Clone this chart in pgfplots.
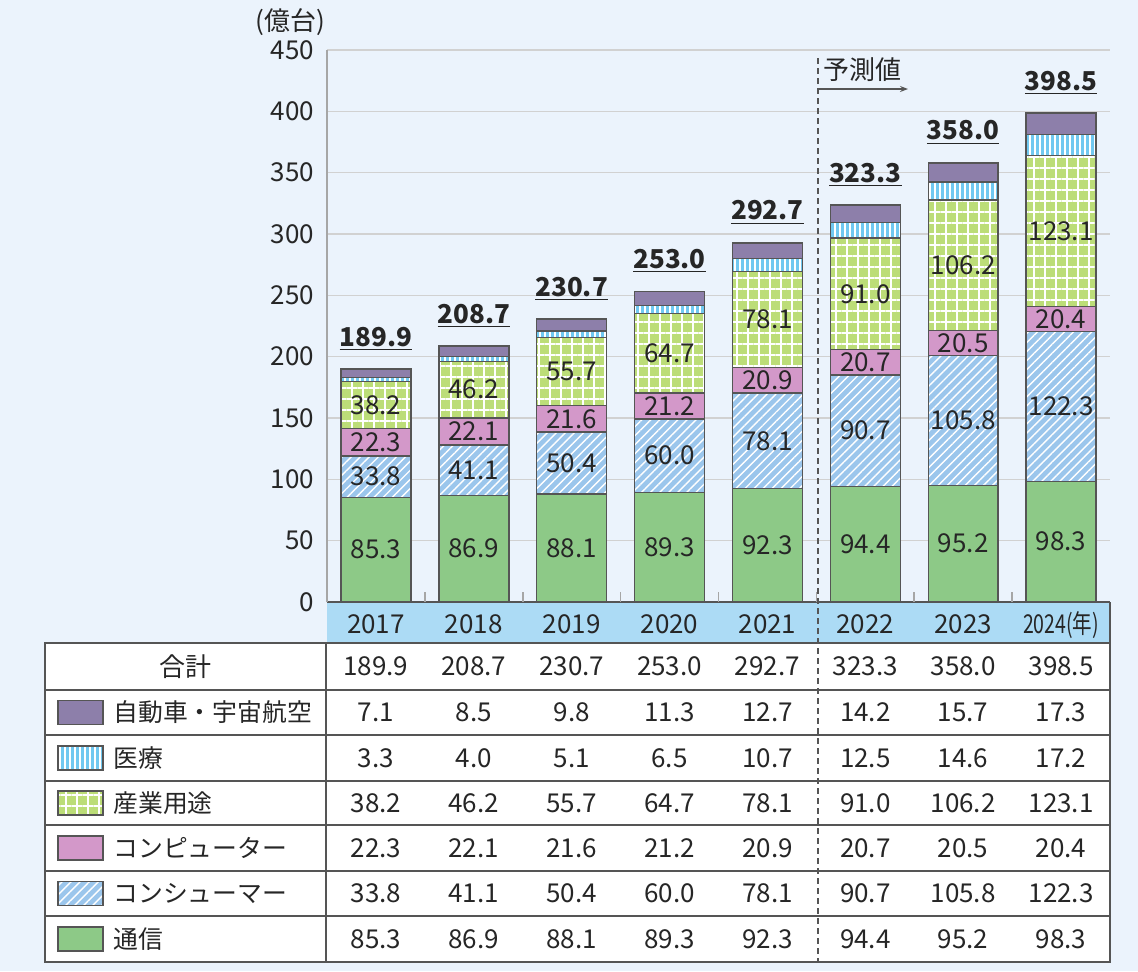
\documentclass[border=0pt]{standalone}
\usepackage{graphicx}
\usepackage{pgfplots}
\pgfplotsset{compat=1.18}
\usepackage{pgfplotstable}
\usepackage{fontspec}
\setmainfont{Noto Sans CJK JP}
\usetikzlibrary{patterns.meta,arrows.meta}

\definecolor{bg}{RGB}{235,243,252}
\definecolor{band}{RGB}{172,219,245}
\definecolor{cTsu}{RGB}{141,201,135}
\definecolor{cCons}{RGB}{155,198,236}
\definecolor{cComp}{RGB}{211,152,201}
\definecolor{cInd}{RGB}{188,221,120}
\definecolor{cMed}{RGB}{112,200,240}
\definecolor{cAuto}{RGB}{141,127,170}
\definecolor{edge}{RGB}{85,85,85}

\pgfplotstableread{
x com cons comp ind med auto tot
0 85.3 33.8 22.3 38.2 3.3 7.1 189.9
1 86.9 41.1 22.1 46.2 4.0 8.5 208.7
2 88.1 50.4 21.6 55.7 5.1 9.8 230.7
3 89.3 60.0 21.2 64.7 6.5 11.3 253.0
4 92.3 78.1 20.9 78.1 10.7 12.7 292.7
5 94.4 90.7 20.7 91.0 12.5 14.2 323.3
6 95.2 105.8 20.5 106.2 14.6 15.7 358.0
7 98.3 122.3 20.4 123.1 17.2 17.3 398.5
}\data

\tikzset{
  fTsu/.style={fill=cTsu},
  fCons/.style={fill=cCons, postaction={pattern={Lines[angle=45,distance=3.2pt,line width=0.7pt]}, pattern color=white}},
  fComp/.style={fill=cComp},
  fInd/.style={fill=cInd, postaction={pattern={Hatch[distance=5.5pt,line width=0.8pt]}, pattern color=white}},
  fMed/.style={fill=cMed, postaction={pattern={Lines[angle=90,distance=2.5pt,line width=0.7pt]}, pattern color=white}},
  fAuto/.style={fill=cAuto},
}

\newcommand\fs{\fontsize{13}{15}\selectfont}
\pgfplotsset{
  sameframe/.style={
    at={(163.5pt,-301pt)}, anchor=south west,
    scale only axis, width=391.5pt, height=276pt,
    xmin=-0.5, xmax=7.5, ymin=0, ymax=450,
    /pgf/number format/assume math mode=true,
    clip=false,
  },
}

\begin{document}
\begin{tikzpicture}
\begin{scope}[x=0.5pt,y=-0.5pt]
  \fill[bg] (0,0) rectangle (1138,971);
  \fill[band] (327,602) rectangle (1110,643);
  \draw[edge, line width=0.8pt] (1110,602) -- (1110,643);
\end{scope}

\begin{axis}[
  sameframe,
  ybar stacked, bar width=0.715,
  separate axis lines,
  axis x line*=bottom, axis y line*=left,
  x axis line style={draw=edge, line width=0.8pt, -},
  y axis line style={draw=gray!70, line width=0.8pt, -},
  ytick={0,50,...,450},
  xtick={0,...,7},
  xticklabels={2017,2018,2019,2020,2021,2022,2023,{\scalebox{0.75}[1]{2024(年)}}},
  major tick length=0pt,
  extra x ticks={0.5,1.5,...,6.5},
  extra x tick labels={},
  extra x tick style={major tick length=5pt, tick style={draw=gray!70, line width=0.8pt}, grid=none},
  ymajorgrids, grid style={draw=black!18, line width=0.8pt},
  tick label style={font=\fs, text=black!85},
  yticklabel style={xshift=-3pt},
  xticklabel style={anchor=base, yshift=-15.5pt},
]
\addplot[fTsu, draw=edge, line width=0.7pt] table[x=x,y=com]{\data};
\addplot[fCons, draw=edge, line width=0.7pt] table[x=x,y=cons]{\data};
\addplot[fComp, draw=edge, line width=0.7pt] table[x=x,y=comp]{\data};
\addplot[fInd, draw=edge, line width=0.7pt] table[x=x,y=ind]{\data};
\addplot[fMed, draw=edge, line width=0.7pt] table[x=x,y=med]{\data};
\addplot[fAuto, draw=edge, line width=0.7pt] table[x=x,y=auto]{\data};
\end{axis}

% value labels (centred in each segment) and totals
\begin{axis}[
  sameframe, hide axis,
  point meta=explicit,
  nodes near coords={\pgfmathprintnumber[fixed,fixed zerofill,precision=1]{\pgfplotspointmeta}},
  every node near coord/.append style={anchor=center, inner sep=0pt, font=\fs, text=black!85},
]
\addplot[draw=none] table[x=x, y expr=\thisrow{com}/2, meta=com]{\data};
\addplot[draw=none] table[x=x, y expr=\thisrow{com}+\thisrow{cons}/2, meta=cons]{\data};
\addplot[draw=none] table[x=x, y expr=\thisrow{com}+\thisrow{cons}+\thisrow{comp}/2, meta=comp]{\data};
\addplot[draw=none] table[x=x, y expr=\thisrow{com}+\thisrow{cons}+\thisrow{comp}+\thisrow{ind}/2, meta=ind]{\data};
\addplot[draw=none,
  nodes near coords={\underline{\textbf{\pgfmathprintnumber[fixed,fixed zerofill,precision=1]{\pgfplotspointmeta}}}},
  every node near coord/.append style={anchor=base, yshift=11.5pt}]
  table[x=x,y=tot,meta=tot]{\data};
\end{axis}

\begin{scope}[x=0.5pt,y=-0.5pt, every node/.style={font=\fs, text=black!85}]
  % table
  \fill[white] (45,643) rectangle (1110,962);
  \draw[edge, line width=0.8pt] (45,643) rectangle (1110,962);
  \foreach \yy in {690,735,781,825,871,916} \draw[edge, line width=0.8pt] (45,\yy) -- (1110,\yy);
  \draw[edge, line width=0.8pt] (326,643) -- (326,962);
  % forecast marker
  \draw[edge, line width=0.6pt, dash pattern=on 3pt off 2pt] (818,58) -- (818,962);
  \draw[edge, line width=0.6pt, -{Stealth[length=4pt,width=3pt]}] (818,89) -- (908,89);
  \node at (862,70) {予測値};
  \node at (290,22) {(億台)};
  % row labels
  \node at (185,666.5) {合計};
  \foreach \yc/\st/\lab in {712.5/fAuto/自動車・宇宙航空, 758/fMed/医療, 803/fInd/産業用途, 848/fComp/コンピューター, 893.5/fCons/コンシューマー, 939/fTsu/通信}{
    \path[\st] (58,\yc-12) rectangle (103,\yc+12);
    \draw[edge, line width=0.6pt] (58,\yc-12) rectangle (103,\yc+12);
    \node[anchor=west, inner sep=0pt, font=\fontsize{12.4}{14}\selectfont] at (113,\yc) {\lab};
  }
  % numbers
  \foreach \yc/\vals in {
    666.5/{189.9,208.7,230.7,253.0,292.7,323.3,358.0,398.5},
    712.5/{7.1,8.5,9.8,11.3,12.7,14.2,15.7,17.3},
    758/{3.3,4.0,5.1,6.5,10.7,12.5,14.6,17.2},
    803/{38.2,46.2,55.7,64.7,78.1,91.0,106.2,123.1},
    848/{22.3,22.1,21.6,21.2,20.9,20.7,20.5,20.4},
    893.5/{33.8,41.1,50.4,60.0,78.1,90.7,105.8,122.3},
    939/{85.3,86.9,88.1,89.3,92.3,94.4,95.2,98.3}}{
    \foreach \v [count=\i from 0] in \vals {
      \node at ({375.9+97.875*\i},\yc) {\v};
    }
  }
\end{scope}
\end{tikzpicture}
\end{document}
